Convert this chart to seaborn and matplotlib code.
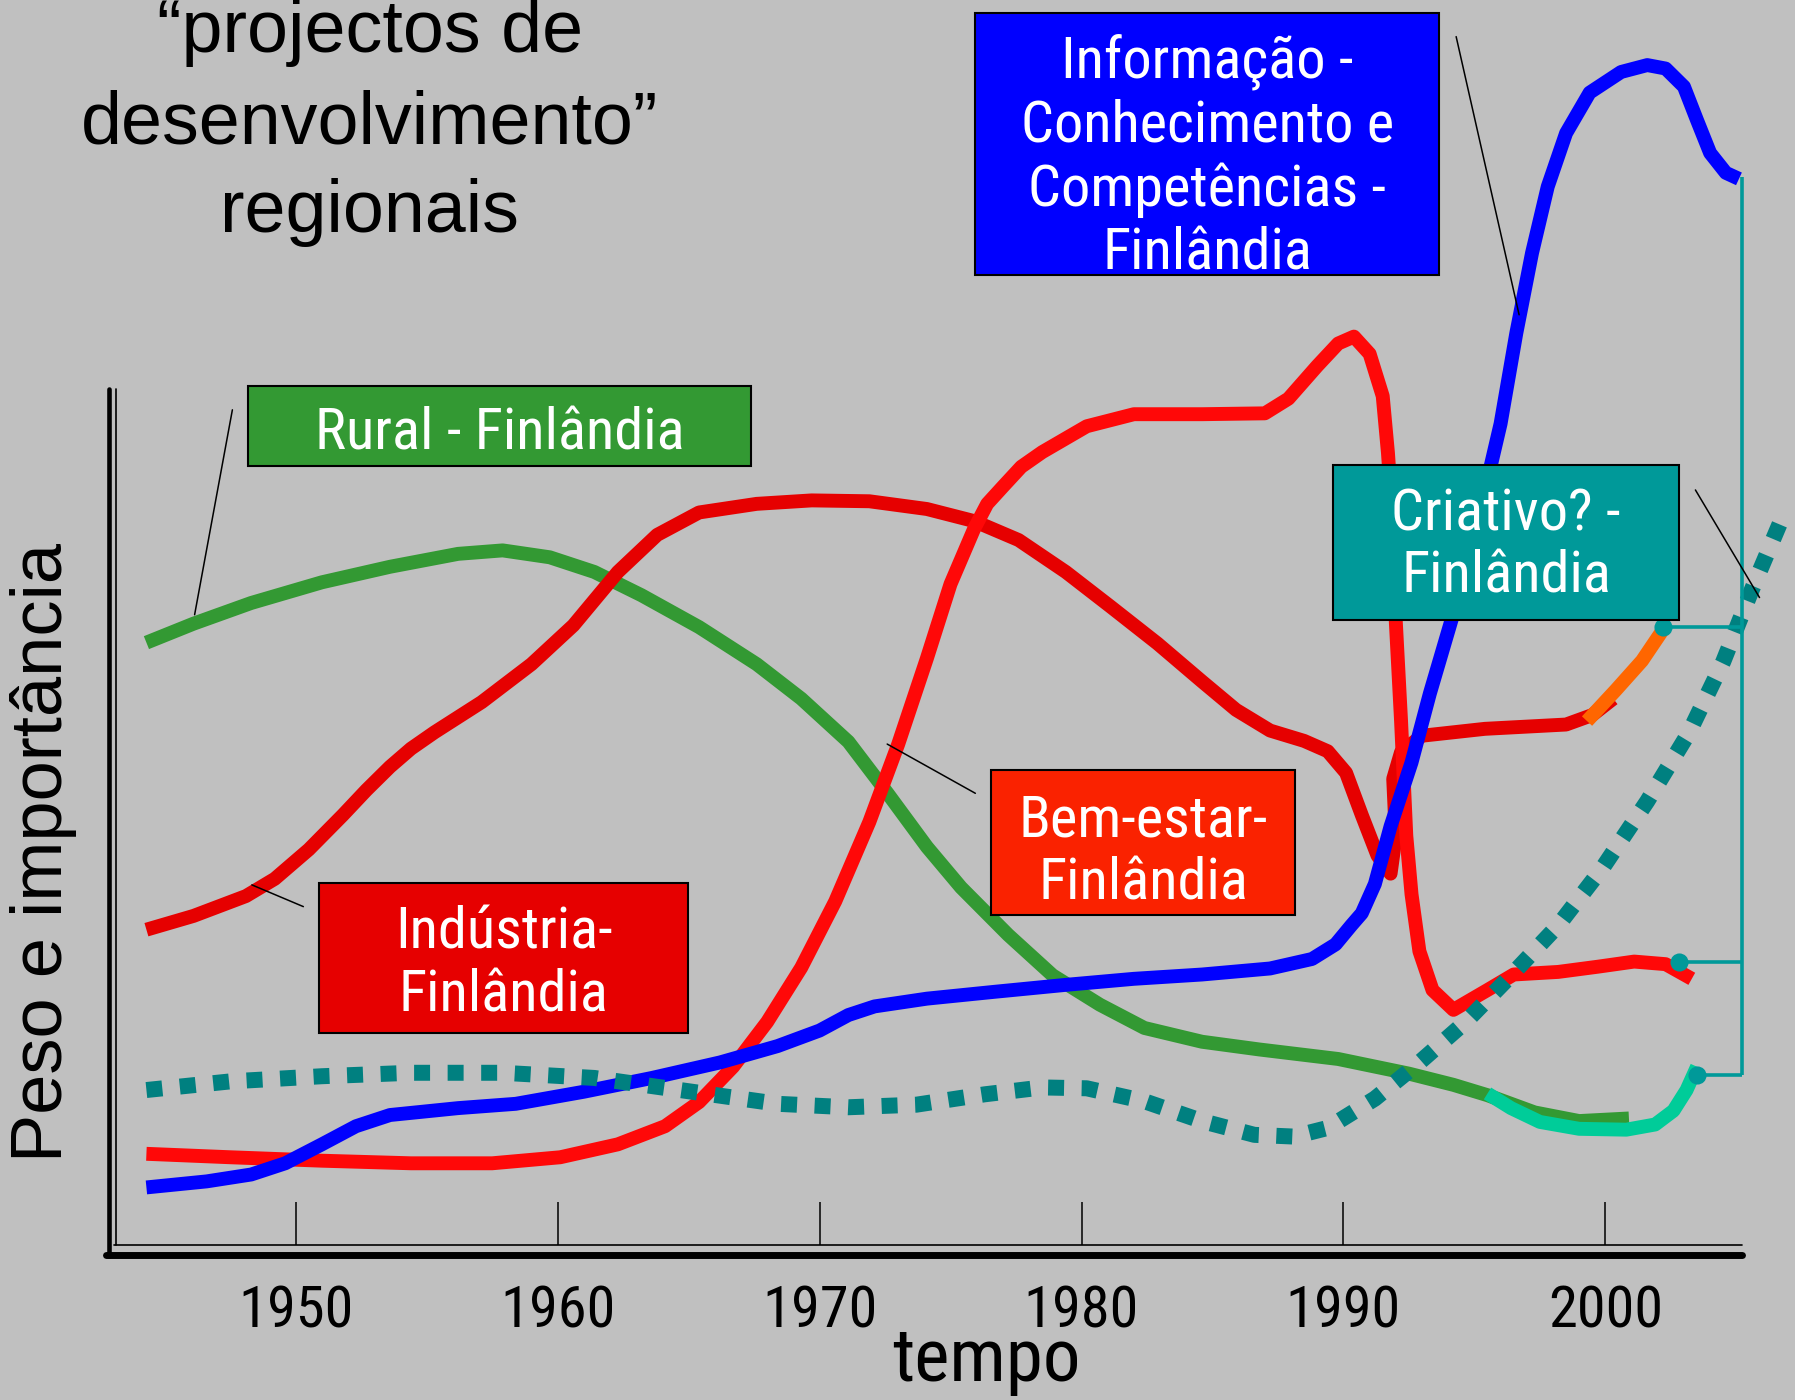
import os
import matplotlib
matplotlib.use('Agg')
import matplotlib.pyplot as plt
import seaborn as sns
from matplotlib import font_manager
from matplotlib.font_manager import FontProperties
from matplotlib.patches import Rectangle

# ---- dados (ano, peso relativo 0-100) ----
tick_years = [1950, 1960, 1970, 1980, 1990, 2000]

rural_years = [1944.3, 1946.1, 1948.3, 1951.0, 1953.6, 1956.2, 1957.9, 1959.7, 1961.4, 1963.2,
               1965.4, 1967.6, 1969.3, 1971.1, 1972.6, 1974.1, 1975.4, 1977.2, 1978.9, 1980.7,
               1982.4, 1984.6, 1986.8, 1989.8, 1992.5, 1994.2, 1995.5, 1997.3, 1999.0, 2000.9]
rural = [70.6, 72.8, 75.2, 77.6, 79.4, 80.9, 81.3, 80.5, 78.8, 76.1,
         72.4, 68.1, 64.1, 59.1, 53.1, 46.9, 42.2, 36.7, 32.0, 28.6,
         25.9, 24.3, 23.4, 22.3, 20.6, 19.3, 18.1, 16.1, 15.1, 15.4]

rural_new_years = [1995.5, 1996.4, 1997.5, 1999.0, 2000.8, 2001.9, 2002.6, 2003.1, 2003.5]
rural_new = [18.3, 16.6, 15.0, 14.2, 14.1, 14.7, 16.3, 18.7, 21.4]

industria_years = [1944.3, 1946.1, 1948.1, 1949.2, 1950.5, 1951.8, 1952.7, 1953.6, 1954.4, 1955.3,
                   1957.1, 1959.0, 1960.6, 1962.3, 1963.8, 1965.4, 1967.6, 1969.7, 1971.9,
                   1974.1, 1975.9, 1977.6, 1979.4, 1981.1, 1982.9, 1984.6, 1985.9, 1987.2, 1988.5,
                   1989.4, 1990.1, 1990.7, 1991.3, 1991.8, 1992.0, 1991.9, 1992.2, 1993.0, 1995.4,
                   1998.5, 1999.5, 2000.3]
industria = [37.3, 38.9, 41.2, 43.2, 46.6, 50.6, 53.5, 56.2, 58.3, 60.2,
             63.7, 68.1, 72.6, 78.8, 83.1, 85.7, 86.7, 87.1, 87.0,
             86.1, 84.7, 82.5, 78.8, 74.8, 70.5, 66.1, 62.8, 60.4, 59.2,
             58.0, 55.5, 50.6, 45.9, 43.8, 48.2, 54.8, 57.9, 59.8, 60.6,
             61.1, 62.2, 64.1]

industria_new_years = [1999.3, 2000.4, 2001.4, 2002.2]
industria_new = [61.5, 65.1, 68.5, 72.1]

bemestar_years = [1944.3, 1947.5, 1951.0, 1954.4, 1957.5, 1960.1, 1962.3, 1964.1, 1965.4, 1966.7,
                  1968.0, 1969.3, 1970.6, 1971.9, 1973.0, 1974.1, 1975.0, 1975.9, 1976.4, 1977.0,
                  1977.7, 1978.5, 1980.2, 1982.0, 1984.6, 1987.0, 1987.9, 1989.0, 1989.8, 1990.4,
                  1991.0, 1991.5, 1991.7, 1991.9, 1992.0, 1992.2, 1992.4, 1992.6, 1992.9, 1993.4,
                  1994.2, 1995.5, 1996.5, 1998.2, 1999.7, 2001.1, 2002.3, 2003.3]
bemestar = [11.3, 10.9, 10.5, 10.2, 10.2, 10.9, 12.4, 14.5, 17.3, 21.4,
            26.6, 32.9, 40.6, 49.8, 58.8, 68.8, 77.4, 83.8, 86.7, 88.7,
            91.0, 92.7, 95.7, 97.1, 97.1, 97.2, 98.9, 102.7, 105.3, 106.1,
            104.1, 99.2, 92.6, 83.7, 73.0, 61.5, 48.2, 41.4, 34.8, 30.3,
            28.0, 30.3, 32.1, 32.4, 33.0, 33.6, 33.3, 31.6]

info_years = [1944.3, 1946.6, 1948.3, 1949.6, 1951.0, 1952.3, 1953.6, 1956.2, 1958.4, 1961.0,
              1963.6, 1966.2, 1968.4, 1970.0, 1971.1, 1972.1, 1974.1, 1976.7, 1979.4, 1982.0,
              1984.6, 1987.2, 1988.8, 1989.7, 1990.3, 1990.7, 1991.2, 1991.8, 1992.6, 1993.3,
              1994.2, 1995.1, 1996.0, 1996.6, 1997.2, 1997.8, 1998.5, 1999.4, 2000.6, 2001.6,
              2002.3, 2003.0, 2003.5, 2004.0, 2004.6, 2005.1]
info = [7.4, 8.1, 8.9, 10.2, 12.4, 14.5, 15.8, 16.6, 17.1, 18.5,
        20.1, 21.9, 23.8, 25.6, 27.4, 28.4, 29.3, 30.1, 30.9, 31.6,
        32.1, 32.8, 33.9, 35.6, 37.8, 39.2, 42.6, 49.3, 56.7, 64.7,
        74.0, 84.3, 96.0, 106.5, 115.8, 123.5, 129.7, 134.4, 136.8, 137.6,
        137.2, 135.1, 131.2, 127.4, 125.1, 124.4]

criativo_years = [1944.3, 1947.5, 1951.0, 1954.4, 1957.9, 1961.4, 1964.9, 1968.4, 1971.1, 1973.7,
                  1976.3, 1978.5, 1980.2, 1982.4, 1984.6, 1986.6, 1988.1, 1989.4, 1991.2, 1992.9,
                  1994.7, 1996.4, 1998.2, 1999.9, 2001.6, 2003.2, 2004.5, 2005.6, 2006.7]
criativo = [18.7, 19.7, 20.3, 20.7, 20.7, 20.1, 18.6, 17.1, 16.7, 17.0,
            18.2, 19.0, 18.9, 17.4, 15.1, 13.5, 13.3, 14.3, 17.7, 21.9,
            26.7, 32.0, 37.8, 44.5, 52.2, 60.2, 68.4, 76.8, 84.7]

# pontos de ligação ao "Criativo?" (ano, valor) e topo do parêntese
link_years = [2002.2, 2002.8, 2003.5]
link_values = [72.4, 33.5, 20.5]
bracket_year = 2005.2
bracket_top = 124.6

# ---- estilo ----
BG = '#c0c0c0'
sns.set_theme(style='white')
names = {f.name for f in font_manager.fontManager.ttflist}
ARIAL = 'Liberation Sans' if 'Liberation Sans' in names else 'DejaVu Sans'
plt.rcParams['font.family'] = [ARIAL, 'DejaVu Sans']
plt.rcParams['text.color'] = 'black'


def fonte_estreita():
    prefs = ['LiberationSansNarrow-Regular', 'ArialNarrow', 'RobotoCondensed-Regular',
             'NotoSans-Condensed.', 'NotoSans-SemiCondensed.', 'DejaVuSansCondensed.',
             'OpenSans-CondensedRegular', 'OpenSans_Condensed-Regular']
    files = [f.fname for f in font_manager.fontManager.ttflist]
    for p in prefs:
        for fn in files:
            if os.path.basename(fn).startswith(p):
                return fn
    skip = ['Bold', 'Italic', 'Light', 'Thin', 'Black', 'Medium', 'Semi', 'Extra', 'Oblique']
    for fn in files:
        b = os.path.basename(fn)
        if ('Condensed' in b or 'Narrow' in b) and not any(k in b for k in skip):
            return fn
    return None


NARROW_FILE = fonte_estreita()


def fp_narrow(size_narrow, size_plain):
    if NARROW_FILE:
        return FontProperties(fname=NARROW_FILE, size=size_narrow)
    return FontProperties(family=[ARIAL, 'DejaVu Sans'], size=size_plain)


W, H = 1568, 1223   # coordenadas de referência para o layout


def fx(x):
    return x / W


def fy(y):
    return 1 - y / H


fig = plt.figure(figsize=(17.95, 14), dpi=100)
fig.patch.set_facecolor(BG)
ax = fig.add_axes([0, 0, 1, 1])
ax.set_facecolor(BG)
ax.set_xlim(1938.71, 2007.24)
ax.set_ylim(-17.26, 145.15)
ax.axis('off')

LW = 10
kw = dict(ax=ax, sort=False, estimator=None, legend=False)
sns.lineplot(x=rural_years, y=rural, color='#339933', lw=LW, zorder=2, **kw)
sns.lineplot(x=industria_years, y=industria, color='#e60000', lw=LW, zorder=3, **kw)
sns.lineplot(x=bemestar_years, y=bemestar, color='#ff0808', lw=LW, zorder=4, **kw)
sns.lineplot(x=info_years, y=info, color='#0000ff', lw=LW, zorder=5, **kw)
ax.plot(criativo_years, criativo, color='#008080', lw=11.5, ls=(0, (1, 1.1)),
        dash_capstyle='butt', zorder=6)
sns.lineplot(x=industria_new_years, y=industria_new, color='#ff6600', lw=LW, zorder=7, **kw)
sns.lineplot(x=rural_new_years, y=rural_new, color='#00cc99', lw=LW, zorder=7, **kw)
for line in ax.lines:
    line.set_solid_capstyle('butt')
    line.set_solid_joinstyle('round')

# parêntese teal
teal = '#009999'
ax.vlines(bracket_year, link_values[2], bracket_top, color=teal, lw=2.6, zorder=8)
ax.hlines(link_values, link_years, bracket_year, color=teal, lw=2.6, zorder=8)
ax.scatter(link_years, link_values, s=170, color=teal, zorder=9, linewidths=0)

# eixos desenhados à mão
ax.plot([fx(95), fx(95)], [fy(340), fy(1097)], transform=ax.transAxes, color='black', lw=3.3, zorder=1)
ax.plot([fx(101), fx(101)], [fy(340), fy(1088)], transform=ax.transAxes, color='black', lw=1.2, zorder=1)
ax.plot([fx(93), fx(1522)], [fy(1096), fy(1096)], transform=ax.transAxes, color='black', lw=5, zorder=1)
ax.plot([fx(100), fx(1522)], [fy(1088), fy(1088)], transform=ax.transAxes, color='black', lw=1.2, zorder=1)
ax.vlines(tick_years, 0.7, 5.7, color='black', lw=1.1, zorder=1)
for yr in tick_years:
    ax.text(yr, -8.8, str(yr), ha='center', va='baseline', fontproperties=fp_narrow(42, 35))
ax.text(fx(862), fy(1206), 'tempo', transform=ax.transAxes, ha='center', va='baseline',
        fontproperties=fp_narrow(54, 47))
ax.text(fx(38), fy(745), 'Peso e importância', transform=ax.transAxes, rotation=90,
        ha='center', va='center', fontsize=52)

# título
for txt, b in zip(['\u201cprojectos de', 'desenvolvimento\u201d', 'regionais'], [45, 125, 203]):
    ax.text(fx(323), fy(b), txt, transform=ax.transAxes, ha='center', va='baseline', fontsize=53)


def caixa(x0, y0, x1, y1, color, lines, baselines):
    ax.add_patch(Rectangle((fx(x0), fy(y1)), fx(x1) - fx(x0), fy(y0) - fy(y1),
                           transform=ax.transAxes, facecolor=color, edgecolor='black',
                           lw=1.5, zorder=10))
    for t, b in zip(lines, baselines):
        ax.text(fx((x0 + x1) / 2), fy(b), t, transform=ax.transAxes, ha='center',
                va='baseline', color='white', fontproperties=fp_narrow(42, 37), zorder=11)


def seta(x0, y0, x1, y1):
    ax.plot([fx(x0), fx(x1)], [fy(y0), fy(y1)], transform=ax.transAxes, color='black',
            lw=1.1, zorder=9)


caixa(217, 337, 656, 407, '#339933', ['Rural - Finlândia'], [393])
caixa(852, 11, 1257, 240, '#0000ff',
      ['Informação -', 'Conhecimento e', 'Competências -', 'Finlândia'], [68, 124, 180, 235])
caixa(1164, 406, 1467, 542, '#009999', ['Criativo? -', 'Finlândia'], [463, 518])
caixa(866, 673, 1131, 799, '#fa2200', ['Bem-estar-', 'Finlândia'], [731, 786])
caixa(279, 771, 601, 902, '#e60000', ['Indústria-', 'Finlândia'], [829, 884])

seta(203, 358, 170, 537)
seta(1272, 32, 1327, 275)
seta(1481, 428, 1537, 522)
seta(852, 693, 775, 650)
seta(265, 792, 220, 773)

fig.savefig('out.png', dpi=100, facecolor=BG)
